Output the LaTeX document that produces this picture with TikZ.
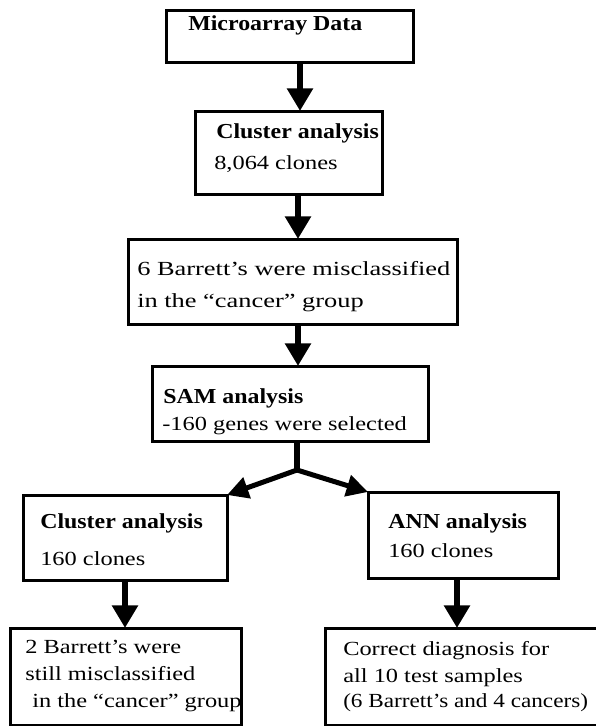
\documentclass[tikz,border=0pt]{standalone}
\usepackage{fontspec}
\setmainfont{Liberation Serif}
\newfontfamily\rf{Liberation Serif}[FakeStretch=1.22]
\newfontfamily\rfn{Liberation Serif}[FakeStretch=1.16]
\newfontfamily\rfw{Liberation Serif}[FakeStretch=1.32]
\newfontfamily\bfam{Liberation Serif}[FakeStretch=1.12]
\usetikzlibrary{arrows.meta}
\tikzset{
  box/.style={draw=black, line width=2.25pt, fill=white, inner sep=0pt, outer sep=0pt},
  hd/.style={anchor=base west, inner sep=0pt, font=\bfam\bfseries\fontsize{16}{19}\selectfont},
  tx/.style={anchor=base west, inner sep=0pt, font=\rf\fontsize{15}{18}\selectfont},
  txn/.style={anchor=base west, inner sep=0pt, font=\rfn\fontsize{15}{18}\selectfont},
  txw/.style={anchor=base west, inner sep=0pt, font=\rfw\fontsize{15}{18}\selectfont},
  varr/.style={line width=4.5pt, -{Triangle[length=17pt, width=18.75pt]}},
  darr/.style={line width=3.75pt, -{Triangle[length=16pt, width=16pt]}},
  stem/.style={line width=4.5pt},
}
\begin{document}
\begin{tikzpicture}[x=0.75pt,y=-0.75pt]
\useasboundingbox (0,0) rectangle (596,726);
% boxes
\node[box, minimum width=247*0.75pt, minimum height=52*0.75pt] (b1) at (289.5,36) {};
\node[box, minimum width=187*0.75pt, minimum height=83*0.75pt] (b2) at (288.5,152.5) {};
\node[box, minimum width=329*0.75pt, minimum height=85*0.75pt] (b3) at (292.5,281.5) {};
\node[box, minimum width=276*0.75pt, minimum height=75*0.75pt] (b4) at (290,403.5) {};
\node[box, minimum width=204*0.75pt, minimum height=85*0.75pt] (lb) at (125,537.5) {};
\node[box, minimum width=190*0.75pt, minimum height=86*0.75pt] (rb) at (463,535) {};
\node[box, minimum width=231*0.75pt, minimum height=97*0.75pt] (bl) at (125.5,676.5) {};
\node[box, minimum width=275*0.75pt, minimum height=97*0.75pt] (br) at (462.5,676.5) {};
% texts
\node[hd] (t1) at (188,30) {Microarray Data};
\node[hd] (t2a) at (216,138) {Cluster analysis};
\node[tx] (t2b) at (214,169) {8,064 clones};
\node[txw] (t3a) at (137,275) {6 Barrett’s were misclassified};
\node[txw] (t3b) at (137,307) {in the “cancer” group};
\node[hd] (t4a) at (163,403) {SAM analysis};
\node[tx] (t4b) at (162,430) {-160 genes were selected};
\node[hd] (t5a) at (40,528) {Cluster analysis};
\node[tx] (t5b) at (40,565) {160 clones};
\node[hd] (t6a) at (388,528) {ANN analysis};
\node[tx] (t6b) at (388,557) {160 clones};
\node[tx] (t7a) at (25,653) {2 Barrett’s were};
\node[tx] (t7b) at (25,680) {still misclassified};
\node[tx] (t7c) at (32,707) {in the “cancer” group};
\node[tx] (t8a) at (343,655) {Correct diagnosis for};
\node[tx] (t8b) at (343,682) {all 10 test samples};
\node[txn] (t8c) at (343,707) {(6 Barrett’s and 4 cancers)};
% connector guides
\coordinate (x1) at (300,0);
\coordinate (x2) at (298,0);
\coordinate (x3) at (297,0);
\coordinate (xl) at (125,0);
\coordinate (xr) at (457,0);
\coordinate (J) at (297,470);
% connectors
\draw[varr] (b1.south -| x1) -- (b2.north -| x1);
\draw[varr] (b2.south -| x2) -- (b3.north -| x2);
\draw[varr] (b3.south -| x2) -- (b4.north -| x2);
\draw[stem] (b4.south -| x3) -- (J);
\draw[darr] (J) -- (lb.north east);
\draw[darr] (J) -- (rb.north west);
\draw[varr] (lb.south -| xl) -- (bl.north -| xl);
\draw[varr] (rb.south -| xr) -- (br.north -| xr);
\end{tikzpicture}
\end{document}
